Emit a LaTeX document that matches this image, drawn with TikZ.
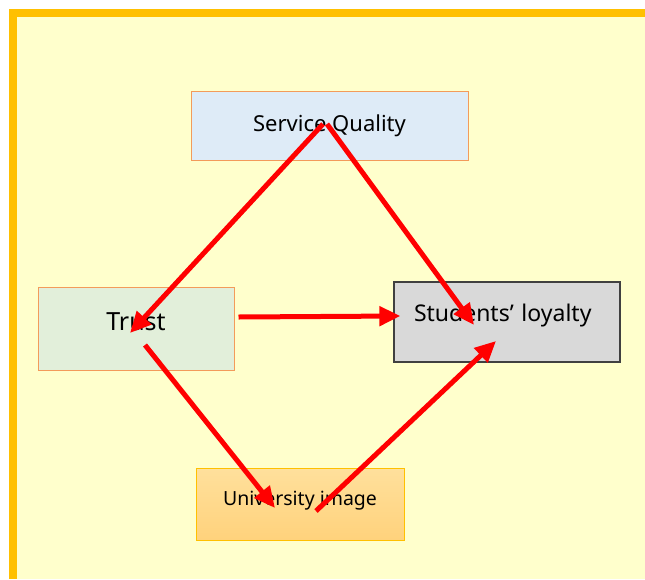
\documentclass[tikz,border=0pt]{standalone}
\usepackage{fontspec}
\setmainfont{Noto Sans}
\usetikzlibrary{arrows.meta,calc}
\definecolor{frame}{HTML}{FFC000}
\definecolor{paper}{HTML}{FFFFCC}
\definecolor{sqfill}{HTML}{DEEBF7}
\definecolor{trfill}{HTML}{E2EFDA}
\definecolor{slfill}{HTML}{D9D9D9}
\definecolor{uitop}{HTML}{FFE09C}
\definecolor{uibot}{HTML}{FFD27C}
\definecolor{edge}{HTML}{F39B5A}
\definecolor{arrowred}{HTML}{FF0000}

\begin{document}
\begin{tikzpicture}[x=1pt,y=-1pt,
  box/.style={draw=edge,line width=1pt,inner sep=0pt},
  link/.style={arrowred,line width=5pt,-{Triangle[length=21pt,width=19pt]}}]
  % slide background
  \useasboundingbox (0,0) rectangle (645,579);
  \fill[white] (0,0) rectangle (645,579);
  \fill[frame] (9,9) rectangle (645,579);
  \fill[paper] (17,17) rectangle (645,579);

  % constructs
  \node[box,fill=sqfill,minimum width=277pt,minimum height=69pt,
    font=\fontsize{22}{25}\selectfont] (sq) at (329.5,125.5) {Service Quality};
  \node[box,fill=trfill,minimum width=196pt,minimum height=83pt,
    font=\fontsize{25}{28}\selectfont,text height=18pt,text depth=15pt] (tr) at (136,328.5) {Trust};
  \node[box,draw=black!75,line width=1.2pt,fill=slfill,minimum width=226pt,minimum height=80pt,
    font=\fontsize{23}{26}\selectfont,text width=186pt,align=left,
    text height=17pt,text depth=19pt] (sl) at (507,322) {Students’ loyalty};
  \node[box,draw=frame,top color=uitop,bottom color=uibot,minimum width=208pt,minimum height=72pt,
    font=\fontsize{19.5}{22}\selectfont,text height=15pt,text depth=13pt] (ui) at (300,504) {University image};

  % paths
  \draw[link] ($(sq.center)+(-6.5,-1.5)$) -- ($(tr.center)+(-6,4.5)$);
  \draw[link] ($(sq.center)+(-2.5,-1.5)$) -- ($(sl.center)+(-33,3)$);
  \draw[link] ($(tr.east)+(4,-11.5)$) -- ($(sl.west)+(7,-6)$);
  \draw[link] ($(tr.center)+(9,16.5)$) -- ($(ui.center)+(-25,4)$);
  \draw[link] ($(ui.center)+(16,7)$) -- ($(sl.center)+(-11,19)$);
\end{tikzpicture}
\end{document}
